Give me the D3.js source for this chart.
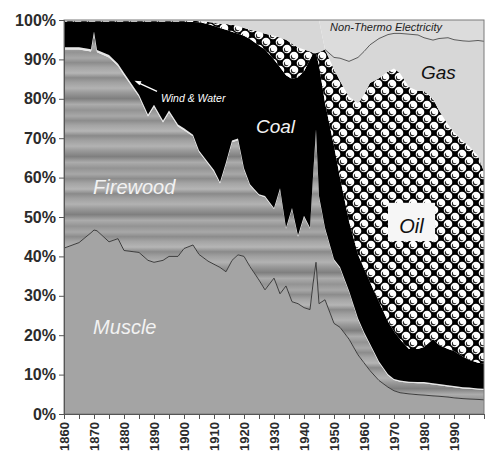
<!DOCTYPE html>
<html>
<head>
<meta charset="utf-8">
<script src="https://cdn.jsdelivr.net/npm/d3@7"></script>
<style>
  body { margin: 0; background: #fff; }
  svg text { font-family: "Liberation Sans", Arial, sans-serif; }
</style>
</head>
<body>
<div id="chart"></div>
<script>
// years sampled along the curves
var years = [1860, 1865, 1869, 1870, 1871, 1875, 1878, 1880, 1885, 1888,
             1890, 1893, 1895, 1898, 1900, 1903, 1905, 1908, 1910, 1912,
             1914, 1916, 1918, 1920, 1922, 1925, 1927, 1930, 1932, 1934,
             1936, 1938, 1940, 1942, 1943, 1944, 1945, 1947, 1950, 1952,
             1955, 1958, 1960, 1962, 1965, 1968, 1970, 1972, 1975, 1978,
             1980, 1983, 1985, 1988, 1990, 1993, 1995, 1998, 2000];

// share of total energy, percent
var muscle = [42.1, 43.5, 46.0, 46.7, 46.5, 43.7, 44.5, 41.5, 41.0, 39.0,
              38.5, 39.0, 40.0, 40.0, 42.0, 42.9, 40.5, 38.8, 38.0, 37.2,
              36.1, 39.0, 40.4, 40.0, 37.4, 34.0, 31.5, 34.5, 30.5, 32.5,
              28.5, 28.0, 27.0, 26.5, 33.0, 38.5, 28.0, 29.0, 23.0, 22.0,
              19.0, 15.0, 13.0, 11.0, 8.5, 6.8, 5.9, 5.4, 5.1, 4.9,
              4.8, 4.6, 4.5, 4.3, 4.1, 3.9, 3.8, 3.7, 3.6];
var firewood = [50.4, 49.0, 46.0, 49.8, 45.3, 46.8, 43.8, 44.5, 39.5, 36.5,
                39.5, 35.0, 36.5, 33.0, 30.0, 27.6, 26.0, 24.7, 23.5, 21.3,
                27.4, 30.0, 29.1, 22.0, 20.6, 21.5, 23.5, 17.5, 26.5, 14.5,
                23.5, 17.0, 23.0, 20.5, 27.0, 33.5, 27.0, 18.0, 16.0, 15.0,
                12.0, 9.0, 7.5, 6.5, 4.5, 3.0, 2.7, 2.8, 2.8, 2.9,
                3.0, 2.9, 2.8, 2.7, 2.7, 2.6, 2.6, 2.5, 2.5];
var windWater = [0.6, 0.6, 0.6, 0.6, 0.6, 0.6, 0.6, 0.6, 0.5, 0.5,
                 0.5, 0.5, 0.5, 0.5, 0.5, 0.4, 0.4, 0.4, 0.4, 0.4,
                 0.4, 0.4, 0.4, 0.4, 0.3, 0.3, 0.3, 0.3, 0.3, 0.3,
                 0.3, 0.3, 0.3, 0.3, 0.3, 0.3, 0.3, 0.3, 0.3, 0.3,
                 0.3, 0.3, 0.3, 0.3, 0.3, 0.3, 0.3, 0.3, 0.3, 0.3,
                 0.3, 0.3, 0.3, 0.3, 0.3, 0.3, 0.3, 0.3, 0.3];
var coal = [6.5, 6.5, 7.0, 2.5, 7.2, 8.5, 10.7, 13.0, 18.6, 23.6,
            21.1, 25.1, 22.6, 26.1, 27.1, 28.6, 32.5, 35.1, 36.6, 39.1,
            33.6, 27.6, 26.6, 33.6, 36.9, 37.7, 37.2, 37.7, 30.7, 38.7,
            32.7, 40.2, 36.7, 42.7, 31.2, 19.2, 33.2, 31.7, 28.7, 22.7,
            17.7, 16.2, 16.2, 15.7, 15.2, 13.4, 12.1, 10.5, 8.3, 8.4,
            8.9, 11.2, 9.9, 9.2, 8.9, 7.7, 7.1, 6.5, 6.4];
var oil = [0.2, 0.2, 0.2, 0.2, 0.2, 0.2, 0.2, 0.2, 0.2, 0.2,
           0.2, 0.2, 0.2, 0.2, 0.2, 0.3, 0.3, 0.5, 0.8, 1.0,
           1.5, 1.8, 2.0, 2.0, 2.3, 3.5, 4.0, 6.0, 7.5, 9.0,
           9.0, 7.5, 5.5, 2.0, 0.2, 0.2, 3.3, 13.5, 19.5, 24.5,
           31.5, 38.4, 44.0, 50.5, 56.7, 63.4, 66.7, 67.5, 66.5, 65.5,
           65.0, 61.0, 59.5, 57.0, 55.5, 54.7, 54.2, 52.5, 48.7];
var gas = [0.2, 0.2, 0.2, 0.2, 0.2, 0.2, 0.2, 0.2, 0.2, 0.2,
           0.2, 0.2, 0.2, 0.2, 0.2, 0.2, 0.3, 0.5, 0.7, 1.0,
           1.0, 1.2, 1.5, 2.0, 2.5, 3.0, 3.5, 4.0, 4.5, 5.0,
           6.0, 7.0, 7.5, 8.0, 8.3, 8.3, 8.2, 0.0, 3.0, 5.8,
           9.0, 11.6, 11.0, 9.7, 10.1, 9.4, 8.9, 10.1, 13.4, 14.2,
           13.5, 14.9, 18.3, 22.0, 23.5, 25.5, 26.6, 29.3, 33.1];
var electricity = [0, 0, 0, 0, 0, 0, 0, 0, 0, 0,
                   0, 0, 0, 0, 0, 0, 0, 0, 0, 0,
                   0, 0, 0, 0, 0, 0, 0, 0, 0, 0,
                   0, 0, 0, 0, 0, 0, 0, 7.5, 9.5, 9.7,
                   10.5, 9.5, 8.0, 6.3, 4.7, 3.7, 3.4, 3.4, 3.6, 3.8,
                   4.5, 5.1, 4.7, 4.5, 5.0, 5.3, 5.4, 5.2, 5.4];

var sources = ["Muscle", "Firewood", "Wind & Water", "Coal", "Oil", "Gas", "Non-Thermo Electricity"];
var yTicks = [0, 10, 20, 30, 40, 50, 60, 70, 80, 90, 100];
var yearTicks = d3.range(1860, 2001, 5);
var yearLabels = d3.range(1860, 1991, 10);

var width = 503, height = 467;
var margin = {top: 20, right: 19, bottom: 53, left: 64};

var svg = d3.select("#chart").append("svg")
    .attr("width", width)
    .attr("height", height);

var xScale = d3.scaleLinear().domain([1860, 2000]).range([margin.left, width - margin.right]),
    yScale = d3.scaleLinear().domain([0, 100]).range([height - margin.bottom, margin.top]);

// build the table for d3.stack
var series = [muscle, firewood, windWater, coal, oil, gas, electricity];
var rows = years.map(function (yr, i) {
  var r = {year: yr};
  sources.forEach(function (s, k) { r[s] = series[k][i]; });
  return r;
});
var stacked = d3.stack().keys(sources)(rows);

//------------- patterns
var defs = svg.append("defs");

// firewood: blurry horizontal grain, uneven bands
var grain = defs.append("linearGradient")
    .attr("id", "woodGrain")
    .attr("gradientUnits", "userSpaceOnUse")
    .attr("x1", 0).attr("x2", 0).attr("y1", 0).attr("y2", 58)
    .attr("spreadMethod", "repeat");
[[0, "#a8a8a8"], [0.08, "#8c8c8c"], [0.16, "#a4a4a4"], [0.26, "#b5b5b5"],
 [0.34, "#8a8a8a"], [0.42, "#a0a0a0"], [0.52, "#b2b2b2"], [0.6, "#999"],
 [0.7, "#7f7f7f"], [0.8, "#acacac"], [0.9, "#939393"], [1, "#a8a8a8"]].forEach(function (s) {
  grain.append("stop").attr("offset", s[0]).attr("stop-color", s[1]);
});

// oil: white balls on black, diagonal lattice (corner balls wrap around the tile)
var tile = 14;
var ball = defs.append("pattern")
    .attr("id", "oilBalls")
    .attr("patternUnits", "userSpaceOnUse")
    .attr("width", tile).attr("height", tile);
ball.append("rect").attr("width", tile).attr("height", tile).attr("fill", "#000");
[[0, 0], [tile, 0], [0, tile], [tile, tile], [tile / 2, tile / 2]].forEach(function (c) {
  ball.append("circle").attr("cx", c[0]).attr("cy", c[1]).attr("r", 4.3).attr("fill", "#fff");
  ball.append("circle").attr("cx", c[0] - 0.8).attr("cy", c[1] + 0.9).attr("r", 2.4).attr("fill", "#222");
  ball.append("circle").attr("cx", c[0] + 0.1).attr("cy", c[1] - 0.1).attr("r", 2.3).attr("fill", "#fff");
});

var fills = {
  "Muscle": "#a4a4a4",
  "Firewood": "url(#woodGrain)",
  "Wind & Water": "#e6e6e6",
  "Coal": "#000",
  "Oil": "url(#oilBalls)",
  "Gas": "#d7d7d7",
  "Non-Thermo Electricity": "#dcdcdc"
};

var area = d3.area()
    .x(function (d) { return xScale(d.data.year); })
    .y0(function (d) { return yScale(d[0]); })
    .y1(function (d) { return yScale(d[1]); });

svg.append("g").selectAll("path")
    .data(stacked)
    .enter().append("path")
    .attr("d", area)
    .attr("fill", function (d) { return fills[d.key]; });

// boundary lines: top of muscle, bottom of non-thermo electricity
var muscleLine = d3.line()
    .x(function (d) { return xScale(d.data.year); })
    .y(function (d) { return yScale(d[1]); });
svg.append("path")
    .attr("d", muscleLine(stacked[0]))
    .attr("fill", "none").attr("stroke", "#3c3c3c").attr("stroke-width", 1);

var elecLine = d3.line()
    .defined(function (d) { return d.data.year >= 1947; })
    .x(function (d) { return xScale(d.data.year); })
    .y(function (d) { return yScale(d[0]); });
svg.append("path")
    .attr("d", elecLine(stacked[6]))
    .attr("fill", "none").attr("stroke", "#5a5a5a").attr("stroke-width", 1);

//------------- labels
function label(txt, yr, pct, size, color, anchor) {
  return svg.append("text")
    .attr("x", xScale(yr)).attr("y", yScale(pct))
    .attr("font-size", size).attr("font-style", "italic")
    .attr("text-anchor", anchor || "start")
    .attr("fill", color)
    .text(txt);
}
label("Muscle", 1869.7, 20.3, 20, "#f2f2f2");
label("Firewood", 1869.7, 55.8, 20, "#f2f2f2");
label("Coal", 1924, 71.3, 19, "#f2f2f2");
label("Gas", 1979, 85, 19, "#111");
label("Non-Thermo Electricity", 1948.7, 97.2, 11, "#222");
label("Wind & Water", 1892.3, 79.2, 10.5, "#fff");

// white box behind Oil
svg.append("rect")
    .attr("x", xScale(1968)).attr("y", yScale(53.6))
    .attr("width", xScale(1983.7) - xScale(1968))
    .attr("height", yScale(43.9) - yScale(53.6))
    .attr("fill", "#f6f6f6");
label("Oil", 1975.8, 45.9, 20, "#111", "middle");

// arrow to the wind & water sliver
svg.append("line")
    .attr("x1", xScale(1891)).attr("y1", yScale(81.9))
    .attr("x2", xScale(1885)).attr("y2", yScale(84.0))
    .attr("stroke", "#fff").attr("stroke-width", 1.3);
var ax = xScale(1883.5), ay = yScale(84.6);
svg.append("path")
    .attr("d", "M" + ax + "," + ay + "L" + (ax + 7) + "," + (ay + 0.5) + "L" + (ax + 5) + "," + (ay + 4.5) + "Z")
    .attr("fill", "#fff");

//------------- frame + axes
svg.append("rect")
    .attr("x", xScale(1860)).attr("y", yScale(100))
    .attr("width", xScale(2000) - xScale(1860))
    .attr("height", yScale(0) - yScale(100))
    .attr("fill", "none").attr("stroke", "#7a7a7a").attr("stroke-width", 1);

var yAxis = d3.axisLeft(yScale)
    .tickValues(yTicks)
    .tickFormat(function (d) { return d + "%"; })
    .tickSize(5).tickPadding(3);
var yAxisEl = svg.append("g")
    .attr("transform", "translate(" + margin.left + ",0)")
    .call(yAxis);
yAxisEl.select(".domain").attr("stroke", "#555");
yAxisEl.selectAll(".tick line").attr("stroke", "#555");
yAxisEl.selectAll(".tick text")
    .attr("font-size", 16).attr("font-weight", "bold").attr("fill", "#2b2b2b")
    .style("font-family", "'Liberation Sans', Arial, sans-serif");

var xAxis = d3.axisBottom(xScale)
    .tickValues(yearTicks)
    .tickFormat(function (d) { return yearLabels.indexOf(d) > -1 ? d : ""; })
    .tickSize(5).tickPadding(3);
var xAxisEl = svg.append("g")
    .attr("transform", "translate(0," + yScale(0) + ")")
    .call(xAxis);
xAxisEl.select(".domain").attr("stroke", "#555");
xAxisEl.selectAll(".tick line").attr("stroke", "#555");
xAxisEl.selectAll(".tick text")
    .attr("transform", "rotate(-90)")
    .attr("text-anchor", "end")
    .attr("x", -8).attr("y", 0).attr("dy", "0.36em")
    .attr("font-size", 13).attr("font-weight", "bold").attr("fill", "#2b2b2b")
    .style("font-family", "'Liberation Sans', Arial, sans-serif");
</script>
</body>
</html>
